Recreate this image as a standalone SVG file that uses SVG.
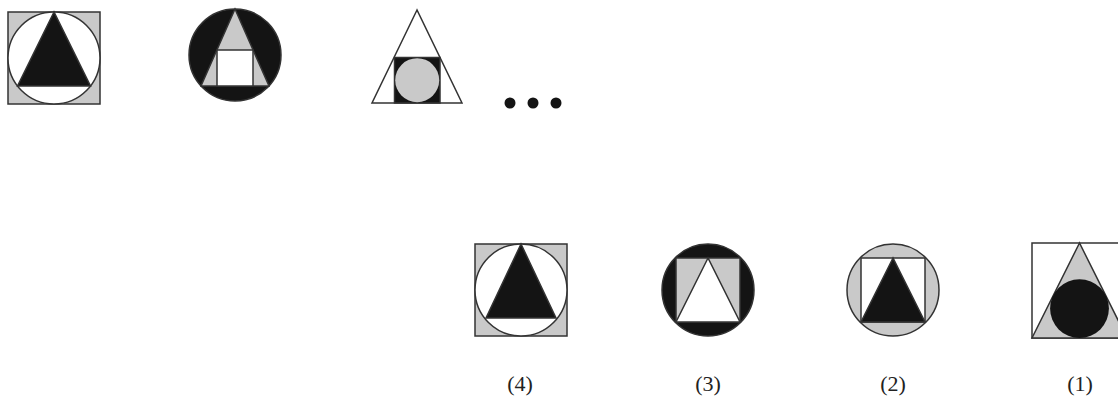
<svg xmlns="http://www.w3.org/2000/svg" width="1118" height="396" viewBox="0 0 1118 396">
<style>
.s{stroke:#333;stroke-width:1.5;stroke-linejoin:miter}
.g{fill:#c9c9c9}.k{fill:#141414}.w{fill:#fff}
.lbl{font-family:"Liberation Serif",serif;font-size:22px;fill:#222;text-anchor:middle}
</style>
<rect width="1118" height="396" fill="#fff"/>
<g id="top1">
<rect class="s g" x="8" y="12" width="92" height="92"/>
<circle class="s w" cx="54" cy="58" r="46"/>
<polygon class="s k" points="54,12 17.5,86 90.5,86"/>
</g>
<g id="top2">
<circle class="s k" cx="235" cy="55" r="46"/>
<polygon class="s g" points="235,9 201,86 269,86"/>
<rect class="s w" x="217" y="50" width="36" height="36"/>
</g>
<g id="top3">
<polygon class="s w" points="417,10 372,103 462,103"/>
<rect class="s k" x="394.5" y="57.5" width="45.5" height="45.5"/>
<circle class="g" cx="417.2" cy="80.2" r="22"/>
</g>
<g id="dots">
<circle class="k" cx="510" cy="103" r="5.5"/>
<circle class="k" cx="533" cy="103" r="5.5"/>
<circle class="k" cx="556" cy="103" r="5.5"/>
</g>
<g id="opt4">
<rect class="s g" x="475" y="244" width="92" height="92"/>
<circle class="s w" cx="521" cy="290" r="46"/>
<polygon class="s k" points="521,244 486,318 556,318"/>
<text class="lbl" x="520" y="391">(4)</text>
</g>
<g id="opt3">
<circle class="s k" cx="708" cy="290" r="46"/>
<rect class="s g" x="676" y="258" width="64" height="64"/>
<polygon class="s w" points="708,258 676,322 740,322"/>
<text class="lbl" x="708" y="391">(3)</text>
</g>
<g id="opt2">
<circle class="s g" cx="893" cy="290" r="46"/>
<rect class="s w" x="861" y="258" width="64" height="64"/>
<polygon class="s k" points="893,258 861,322 925,322"/>
<text class="lbl" x="893" y="391">(2)</text>
</g>
<g id="opt1">
<rect class="s w" x="1032" y="243" width="95" height="95"/>
<polygon class="s g" points="1079.5,243 1032,338 1127,338"/>
<circle class="k" cx="1079.5" cy="308.6" r="29.4"/>
<text class="lbl" x="1080" y="391">(1)</text>
</g>
</svg>
